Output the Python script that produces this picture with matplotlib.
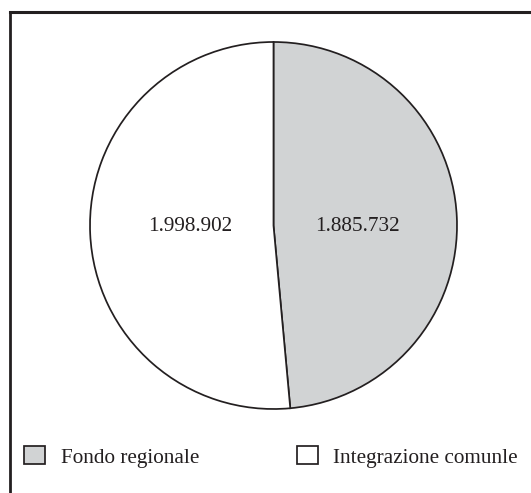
import matplotlib
matplotlib.use("Agg")
import matplotlib.pyplot as plt
from matplotlib.lines import Line2D

plt.rcParams['font.family'] = ['Liberation Serif', 'DejaVu Serif']

labels = ["Fondo regionale", "Integrazione comunle"]
values = [1885732, 1998902]
colors = ["#d1d3d4", "#ffffff"]

W, H = 531, 493
fig = plt.figure(figsize=(W / 100, H / 100), dpi=100)

# pie area: centre (273.5, 225.5) px, radius 183.5 px
ax = fig.add_axes([90 / W, 84 / H, 367 / W, 367 / H])

total = sum(values)

def fmt(pct):
    v = int(round(pct * total / 100.0))
    return f"{v:,}".replace(",", ".")

wedges, texts, autotexts = ax.pie(
    values, colors=colors, startangle=90, counterclock=False,
    autopct=fmt, pctdistance=0.455,
    wedgeprops=dict(edgecolor="#231f20", linewidth=1.25),
    textprops=dict(fontsize=15.3, color="#231f20"),
)
# both value labels sit on the same horizontal line
for t in autotexts:
    x, y = t.get_position()
    t.set_position((0.455 if x > 0 else -0.455, -0.006))

ax.set_xlim(-1, 1)
ax.set_ylim(-1, 1)
ax.set_aspect("auto")

fig.legend(wedges, labels, loc="center left", bbox_to_anchor=(24 / W, 36 / H),
           ncol=2, frameon=False, fontsize=15.3, borderpad=0, borderaxespad=0,
           handlelength=1.0, handleheight=0.9, handletextpad=0.72,
           columnspacing=4.6, labelcolor="#231f20")

# frame lines top and left only
fig.add_artist(Line2D([10 / W, 1], [1 - 11.5 / H, 1 - 11.5 / H],
                      transform=fig.transFigure, color="#231f20", lw=2.2))
fig.add_artist(Line2D([10 / W, 10 / W], [0, 1 - 11.5 / H],
                      transform=fig.transFigure, color="#231f20", lw=2.0))

fig.savefig("out.png", dpi=100)
